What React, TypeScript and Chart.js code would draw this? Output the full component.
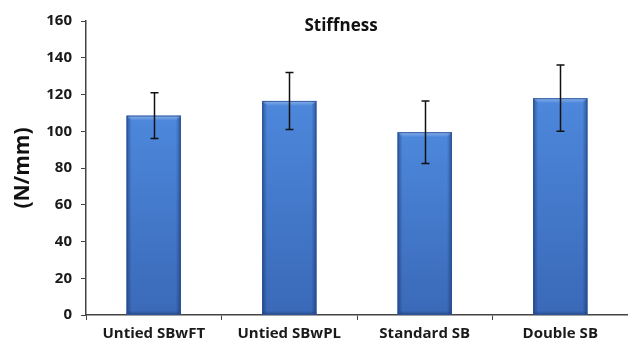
import React, { useEffect, useRef } from "react";
import { Chart, registerables } from "chart.js";

Chart.register(...registerables);

const categories = ["Untied SBwFT", "Untied SBwPL", "Standard SB", "Double SB"];
const means = [108.5, 116.5, 99.5, 118];
const errors = [12.5, 15.5, 17, 18];
const yMin = 0;
const yMax = 160;
const yStep = 20;
const chartTitle = "Stiffness";
const yAxisTitle = "(N/mm)";

const FONT = "'Open Sans', Lato, 'Liberation Sans', sans-serif";

const decorPlugin = {
  id: "decor",
  afterDatasetsDraw(chart: any) {
    const ctx = chart.ctx;
    const meta = chart.getDatasetMeta(0);
    const yScale = chart.scales.y;
    ctx.save();
    meta.data.forEach((el: any, i: number) => {
      const w = el.width;
      const x0 = el.x - w / 2;
      const x1 = el.x + w / 2;
      const top = el.y;
      const bot = el.base;
      const h = bot - top;
      const g = ctx.createLinearGradient(0, top, 0, bot);
      g.addColorStop(0, "#4d88dc");
      g.addColorStop(1, "#3a69b8");
      ctx.fillStyle = g;
      ctx.fillRect(x0, top, w, h);
      const gl = ctx.createLinearGradient(x0, 0, x0 + 5, 0);
      gl.addColorStop(0, "rgba(20,40,90,0.5)");
      gl.addColorStop(1, "rgba(20,40,90,0)");
      ctx.fillStyle = gl;
      ctx.fillRect(x0, top, 5, h);
      const gr = ctx.createLinearGradient(x1 - 5, 0, x1, 0);
      gr.addColorStop(0, "rgba(20,40,90,0)");
      gr.addColorStop(1, "rgba(20,40,90,0.5)");
      ctx.fillStyle = gr;
      ctx.fillRect(x1 - 5, top, 5, h);
      const gt = ctx.createLinearGradient(0, top, 0, top + 5);
      gt.addColorStop(0, "rgba(255,255,255,0.35)");
      gt.addColorStop(1, "rgba(255,255,255,0)");
      ctx.fillStyle = gt;
      ctx.beginPath();
      ctx.moveTo(x0, top);
      ctx.lineTo(x1, top);
      ctx.lineTo(x1 - 5, top + 5);
      ctx.lineTo(x0 + 5, top + 5);
      ctx.closePath();
      ctx.fill();
      const gb = ctx.createLinearGradient(0, bot - 4, 0, bot);
      gb.addColorStop(0, "rgba(20,40,90,0)");
      gb.addColorStop(1, "rgba(20,40,90,0.4)");
      ctx.fillStyle = gb;
      ctx.fillRect(x0, bot - 4, w, 4);
      ctx.strokeStyle = "rgba(40,80,150,0.8)";
      ctx.lineWidth = 1;
      ctx.strokeRect(x0 + 0.5, top + 0.5, w - 1, h - 1);

      const hi = yScale.getPixelForValue(means[i] + errors[i]);
      const lo = yScale.getPixelForValue(means[i] - errors[i]);
      const cx = Math.round(el.x) + 0.5;
      ctx.strokeStyle = "#111";
      ctx.lineWidth = 1.5;
      ctx.beginPath();
      ctx.moveTo(cx, hi);
      ctx.lineTo(cx, lo);
      ctx.moveTo(cx - 4, hi);
      ctx.lineTo(cx + 4, hi);
      ctx.moveTo(cx - 4, lo);
      ctx.lineTo(cx + 4, lo);
      ctx.stroke();
    });
    ctx.fillStyle = "#111";
    ctx.font = `bold 17px ${FONT}`;
    ctx.textAlign = "center";
    ctx.textBaseline = "middle";
    ctx.fillText(chartTitle, 341, 26);
    ctx.restore();
  },
};

export default function App() {
  const ref = useRef<HTMLCanvasElement>(null);
  useEffect(() => {
    if (!ref.current) return;
    const chart = new Chart(ref.current, {
      type: "bar",
      data: {
        labels: categories,
        datasets: [
          {
            data: means,
            backgroundColor: "#4a80d0",
            borderWidth: 0,
            barPercentage: 0.4,
            categoryPercentage: 1,
          },
        ],
      },
      options: {
        animation: false,
        responsive: true,
        maintainAspectRatio: false,
        layout: { padding: { top: 21, left: 0, right: 0, bottom: 0 } },
        plugins: {
          legend: { display: false },
          tooltip: { enabled: false },
          title: { display: false },
        },
        scales: {
          x: {
            afterFit: (s: any) => {
              s.height = 29;
            },
            grid: {
              display: true,
              drawOnChartArea: false,
              drawTicks: true,
              tickLength: 5,
              color: "#444",
              offset: true,
            },
            border: { display: true, color: "#444", width: 1.5 },
            ticks: {
              color: "#1a1a1a",
              padding: 5,
              font: { family: FONT, size: 15, weight: "bold" },
            },
          },
          y: {
            min: yMin,
            max: yMax,
            afterFit: (s: any) => {
              s.width = 86;
            },
            grid: {
              display: true,
              drawOnChartArea: false,
              drawTicks: true,
              tickLength: 5,
              color: "#444",
            },
            border: { display: true, color: "#444", width: 1.5 },
            ticks: {
              stepSize: yStep,
              color: "#1a1a1a",
              padding: 9,
              font: { family: FONT, size: 15, weight: "bold" },
            },
            title: {
              display: true,
              text: yAxisTitle,
              color: "#111",
              padding: { top: 10, bottom: 0 },
              font: { family: FONT, size: 21, weight: "bold" },
            },
          },
        },
      },
      plugins: [decorPlugin],
    });
    return () => chart.destroy();
  }, []);
  return (
    <div style={{ position: "fixed", left: 0, top: 0, width: 628, height: 344, background: "#fff" }}>
      <canvas ref={ref} />
    </div>
  );
}
